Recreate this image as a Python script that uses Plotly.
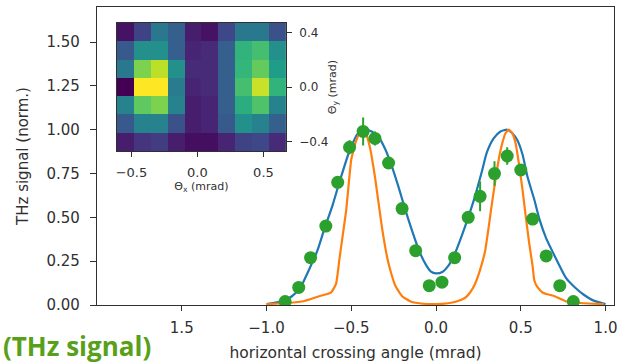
import plotly.graph_objects as go

# Main curves
blue_x = [-1.0, -0.92, -0.85, -0.80, -0.75, -0.70, -0.66, -0.61, -0.57, -0.51, -0.46, -0.42, -0.38, -0.34,
          -0.30, -0.26, -0.22, -0.18, -0.14, -0.10, -0.06, -0.03, 0.0, 0.04, 0.07, 0.11, 0.15, 0.19, 0.23,
          0.27, 0.30, 0.34, 0.38, 0.42, 0.45, 0.48, 0.51, 0.54, 0.58, 0.61, 0.65, 0.70, 0.77, 0.82, 0.87,
          0.93, 1.0]
blue_y = [0.005, 0.02, 0.05, 0.10, 0.20, 0.31, 0.43, 0.57, 0.70, 0.88, 0.98, 1.0, 0.99, 0.96,
          0.89, 0.79, 0.67, 0.54, 0.42, 0.31, 0.23, 0.19, 0.18, 0.19, 0.22, 0.29, 0.39, 0.50, 0.62,
          0.76, 0.87, 0.95, 0.99, 1.0, 0.98, 0.94, 0.86, 0.73, 0.60, 0.49, 0.38, 0.28, 0.15, 0.10, 0.06,
          0.025, 0.005]

orange_x = [-1.0, -0.90, -0.79, -0.69, -0.62, -0.59, -0.57, -0.55, -0.53, -0.50, -0.47, -0.45, -0.43, -0.41,
            -0.39, -0.36, -0.32, -0.29, -0.27, -0.24, -0.20, -0.15, -0.10, 0.0, 0.07, 0.12, 0.17, 0.20, 0.23,
            0.26, 0.29, 0.31, 0.33, 0.35, 0.37, 0.39, 0.41, 0.43, 0.45, 0.47, 0.49, 0.51, 0.53, 0.55, 0.57,
            0.58, 0.60, 0.63, 0.70, 0.77, 0.87, 0.99]
orange_y = [0.005, 0.01, 0.02, 0.05, 0.07, 0.12, 0.26, 0.40, 0.54, 0.83, 0.94, 0.98, 1.0, 0.97,
            0.90, 0.73, 0.45, 0.28, 0.20, 0.11, 0.05, 0.02, 0.01, 0.005, 0.01, 0.02, 0.04, 0.07, 0.12,
            0.20, 0.31, 0.44, 0.58, 0.71, 0.83, 0.92, 0.98, 1.0, 0.98, 0.92, 0.80, 0.66, 0.50, 0.35, 0.22,
            0.14, 0.10, 0.07, 0.05, 0.02, 0.01, 0.005]

meas_x = [-0.89, -0.81, -0.74, -0.65, -0.58, -0.51, -0.43, -0.36, -0.28, -0.20, -0.12, -0.04, 0.035,
          0.11, 0.19, 0.26, 0.345, 0.42, 0.50, 0.57, 0.65, 0.73, 0.81]
meas_y = [0.02, 0.10, 0.27, 0.45, 0.70, 0.90, 0.99, 0.95, 0.81, 0.55, 0.31, 0.11, 0.13,
          0.27, 0.50, 0.62, 0.75, 0.85, 0.77, 0.49, 0.28, 0.11, 0.02]
meas_err = [0, 0, 0, 0, 0, 0.04, 0.08, 0.04, 0, 0, 0, 0, 0,
            0, 0, 0.085, 0.07, 0.05, 0, 0, 0, 0, 0]

# Inset heatmap (rows bottom -> top)
theta_x = [-0.546, -0.418, -0.290, -0.162, -0.034, 0.094, 0.222, 0.350, 0.478, 0.606]
theta_y = [-0.403, -0.269, -0.134, 0.0, 0.134, 0.269, 0.403]
heat_z = [
    [0.08, 0.15, 0.18, 0.08, 0.04, 0.04, 0.10, 0.20, 0.22, 0.12],
    [0.28, 0.45, 0.45, 0.25, 0.08, 0.10, 0.28, 0.50, 0.45, 0.30],
    [0.45, 0.75, 0.80, 0.45, 0.08, 0.10, 0.30, 0.62, 0.72, 0.45],
    [0.00, 1.00, 1.00, 0.42, 0.10, 0.12, 0.30, 0.70, 0.92, 0.65],
    [0.40, 0.80, 0.90, 0.50, 0.12, 0.12, 0.30, 0.66, 0.76, 0.55],
    [0.28, 0.50, 0.50, 0.30, 0.10, 0.12, 0.30, 0.65, 0.70, 0.50],
    [0.05, 0.20, 0.40, 0.30, 0.08, 0.05, 0.22, 0.40, 0.40, 0.25],
]

x_tickvals = [-1.5, -1.0, -0.5, 0.0, 0.5, 1.0]
x_ticktext = ["1.5", "\u22121.0", "\u22120.5", "0.0", "0.5", "1.0"]
y_tickvals = [0.0, 0.25, 0.5, 0.75, 1.0, 1.25, 1.5]

FONT = "DejaVu Sans"
TXT = "#303030"

fig = go.Figure()
fig.add_trace(go.Scatter(x=blue_x, y=blue_y, mode="lines", line=dict(color="#1f77b4", width=2.2, shape="spline", smoothing=0.6),
                         showlegend=False))
fig.add_trace(go.Scatter(x=orange_x, y=orange_y, mode="lines", line=dict(color="#ff7f0e", width=2.2, shape="spline", smoothing=0.4),
                         showlegend=False))
fig.add_trace(go.Scatter(x=meas_x, y=meas_y, mode="markers",
                         marker=dict(color="#2ca02c", size=13),
                         error_y=dict(type="data", array=meas_err, color="#2ca02c", thickness=2, width=0),
                         showlegend=False))
fig.add_trace(go.Heatmap(x=theta_x, y=theta_y, z=heat_z, colorscale="Viridis", zmin=0, zmax=1,
                         showscale=False, xaxis="x2", yaxis="y2", hoverinfo="skip"))

fig.update_layout(
    width=620, height=363,
    margin=dict(l=97, r=3, t=7, b=58),
    paper_bgcolor="white", plot_bgcolor="white",
    font=dict(family=FONT, color=TXT, size=14),
    xaxis=dict(range=[-2.0, 1.05], tickvals=x_tickvals, ticktext=x_ticktext,
               showgrid=False, zeroline=False, showline=True, mirror=True,
               linecolor="#303030", linewidth=1.2, ticks="outside", ticklen=5, tickcolor="#303030",
               ticklabeloverflow="allow", ticklabelstandoff=4,
               tickfont=dict(size=15, family=FONT, color=TXT),
               title=dict(text="horizontal crossing angle (mrad)", font=dict(size=15.5, family=FONT, color=TXT), standoff=11)),
    yaxis=dict(range=[0, 1.70], tickvals=y_tickvals, tickformat=".2f",
               showgrid=False, zeroline=False, showline=True, mirror=True,
               linecolor="#303030", linewidth=1.2, ticks="outside", ticklen=6, tickcolor="#303030",
               ticklabelstandoff=7,
               tickfont=dict(size=15, family=FONT, color=TXT),
               title=dict(text="THz signal (norm.)", font=dict(size=15, family=FONT, color=TXT), standoff=14)),
    xaxis2=dict(domain=[0.0385, 0.3654], anchor="y2", range=[-0.61, 0.67],
                tickvals=[-0.5, 0.0, 0.5], ticktext=["\u22120.5", "0.0", "0.5"],
                showgrid=False, zeroline=False, showline=True, mirror=True, linecolor="#303030", linewidth=1,
                ticks="outside", ticklen=5, tickcolor="#303030", ticklabelstandoff=4,
                tickfont=dict(size=13, family=FONT, color=TXT),
                title=dict(text="\u0398<sub>x</sub> (mrad)", font=dict(size=11, family=FONT, color=TXT), standoff=0)),
    yaxis2=dict(domain=[0.5168, 0.9463], anchor="x2", side="right", range=[-0.47, 0.47],
                tickvals=[-0.4, 0.0, 0.4], ticktext=["\u22120.4", "0.0", "0.4"],
                showgrid=False, zeroline=False, showline=True, mirror=True, linecolor="#303030", linewidth=1,
                ticks="outside", ticklen=5, tickcolor="#303030", ticklabelstandoff=5,
                tickfont=dict(size=12, family=FONT, color=TXT),
                title=dict(text="\u0398<sub>y</sub> (mrad)", font=dict(size=11, family=FONT, color=TXT), standoff=0)),
)

fig.add_annotation(xref="paper", yref="paper", x=(0 - 97) / 520, y=(305 - 346) / 298,
                   xanchor="left", yanchor="middle", showarrow=False,
                   text="<b>(THz signal)</b>", font=dict(family="Open Sans", size=26, color="#58a01a"))

fig.write_html("out.html")
